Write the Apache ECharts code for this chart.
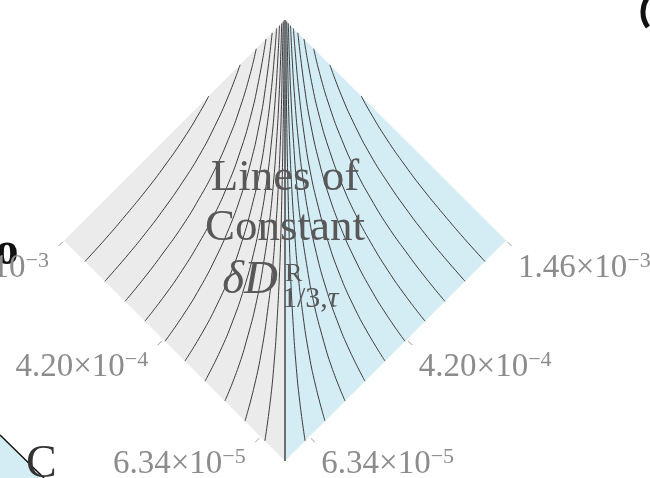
<!DOCTYPE html>
<html>
<head>
<meta charset="utf-8">
<script src="https://cdn.jsdelivr.net/npm/echarts@6/dist/echarts.min.js"></script>
<style>
  html, body { margin: 0; padding: 0; background: #fff; }
  #chart { width: 650px; height: 478px; }
</style>
</head>
<body>
<div id="chart"></div>
<script>
// diamond halves, in (x = b - a, y = a + b) units
const leftHalf = [[0, 0], [-1, 1], [0, 2]];
const rightHalf = [[0, 0], [1, 1], [0, 2]];
const centerLine = [[0, 0], [0, 2]];

// contour lines on the left half; the right half mirrors them
const contours = [
  [[-0.091,0.091],[-0.067,0.267],[-0.049,0.449],[-0.036,0.636],[-0.026,0.826],[-0.019,1.019],[-0.014,1.214],[-0.010,1.410],[-0.007,1.607],[-0.005,1.805],[-0.004,1.997]],
  [[-0.181,0.181],[-0.139,0.339],[-0.105,0.505],[-0.079,0.679],[-0.058,0.858],[-0.043,1.043],[-0.031,1.231],[-0.022,1.422],[-0.016,1.616],[-0.012,1.812],[-0.008,1.992]],
  [[-0.272,0.272],[-0.215,0.415],[-0.168,0.568],[-0.128,0.728],[-0.097,0.897],[-0.072,1.072],[-0.053,1.253],[-0.039,1.439],[-0.028,1.628],[-0.020,1.820],[-0.015,1.985]],
  [[-0.362,0.362],[-0.295,0.495],[-0.236,0.636],[-0.185,0.785],[-0.142,0.942],[-0.108,1.108],[-0.081,1.281],[-0.060,1.460],[-0.044,1.644],[-0.032,1.832],[-0.025,1.975]],
  [[-0.453,0.453],[-0.377,0.577],[-0.308,0.708],[-0.247,0.847],[-0.195,0.995],[-0.151,1.151],[-0.114,1.314],[-0.086,1.486],[-0.064,1.664],[-0.047,1.847],[-0.038,1.962]],
  [[-0.543,0.543],[-0.461,0.661],[-0.385,0.785],[-0.316,0.916],[-0.254,1.054],[-0.200,1.200],[-0.155,1.355],[-0.118,1.518],[-0.089,1.689],[-0.058,1.942]],
  [[-0.634,0.634],[-0.547,0.747],[-0.465,0.865],[-0.389,0.989],[-0.319,1.119],[-0.257,1.257],[-0.203,1.403],[-0.157,1.557],[-0.120,1.720],[-0.086,1.914]],
  [[-0.724,0.724],[-0.634,0.834],[-0.548,0.948],[-0.465,1.065],[-0.389,1.189],[-0.319,1.319],[-0.257,1.457],[-0.203,1.603],[-0.157,1.757],[-0.130,1.870]],
  [[-0.815,0.815],[-0.722,0.922],[-0.632,1.032],[-0.546,1.146],[-0.464,1.264],[-0.387,1.387],[-0.318,1.518],[-0.256,1.656],[-0.203,1.797]],
  [[-0.905,0.905],[-0.810,1.010],[-0.718,1.118],[-0.628,1.228],[-0.542,1.342],[-0.460,1.460],[-0.384,1.584],[-0.345,1.655]]
];

// ticks along the two lower edges
const tickSteps = [0.11, 0.551, 1.0];
const tickMain = ['6.34×10', '4.20×10', '1.46×10'];
const tickExp = ['−5', '−4', '−3'];

const halves = [leftHalf, rightHalf];
const halfColors = ['#ebebeb', '#d4ecf4'];

const lineSeries = [];
contours.forEach(c => {
  [c, c.map(p => [-p[0], p[1]])].forEach(d => {
    lineSeries.push({
      type: 'line',
      data: d,
      smooth: true,
      showSymbol: false,
      silent: true,
      clip: false,
      z: 3,
      lineStyle: { color: '#3c3c3c', width: 1 }
    });
  });
});

const tickData = [];
[-1, 1].forEach(side => {
  tickSteps.forEach((s, i) => tickData.push([side * s, s, i, side]));
});

const serif = '"Liberation Serif"';

const chart = echarts.init(document.getElementById('chart'));
chart.setOption({
  animation: false,
  grid: { left: 64, right: 144, top: 20, bottom: 17 },
  xAxis: { type: 'value', min: -1, max: 1, show: false },
  yAxis: { type: 'value', min: 0, max: 2, show: false },
  series: [
    {
      type: 'custom',
      silent: true,
      z: 1,
      data: [[0, 0], [0, 0]],
      renderItem: (params, api) => ({
        type: 'polygon',
        shape: { points: halves[params.dataIndex].map(p => api.coord(p)) },
        style: { fill: halfColors[params.dataIndex] }
      })
    },
    ...lineSeries,
    {
      type: 'line',
      data: centerLine,
      showSymbol: false,
      silent: true,
      clip: false,
      z: 4,
      lineStyle: { color: '#6f6f6f', width: 2 }
    },
    {
      type: 'custom',
      silent: true,
      z: 5,
      data: tickData,
      renderItem: (params, api) => {
        const p = api.coord([api.value(0), api.value(1)]);
        const i = api.value(2);
        const side = api.value(3);
        return {
          type: 'group',
          children: [
            {
              type: 'line',
              shape: { x1: p[0] + side * 1.5, y1: p[1] + 1.5, x2: p[0] + side * 5.5, y2: p[1] + 5.5 },
              style: { stroke: '#9a9a9a', lineWidth: 1 }
            },
            {
              type: 'text',
              x: p[0] + (side < 0 ? -15 : 12),
              y: p[1] + 27,
              style: {
                text: '{m|' + tickMain[i] + '}{s|' + tickExp[i] + '}',
                align: side < 0 ? 'right' : 'left',
                verticalAlign: 'middle',
                rich: {
                  m: { fontFamily: 'Liberation Serif', fontSize: 33, lineHeight: 35, verticalAlign: 'bottom', fill: '#8c8c8c' },
                  s: { fontFamily: 'Liberation Serif', fontSize: 22, lineHeight: 22, verticalAlign: 'top', fill: '#8c8c8c' }
                }
              }
            }
          ]
        };
      }
    }
  ],
  graphic: [
    // bits of the neighbouring panels that show at the edges
    { type: 'polygon', z: 0, shape: { points: [[0, 436], [42, 478], [0, 478]] }, style: { fill: '#d4ecf4' } },
    { type: 'line', z: 1, shape: { x1: 0, y1: 435, x2: 44, y2: 478 }, style: { stroke: '#111', lineWidth: 1.5 } },
    { type: 'text', z: 2, x: 26, y: 488, style: { text: 'C', font: '46px ' + serif, fill: '#333', align: 'left', verticalAlign: 'bottom' } },
    { type: 'text', z: 2, x: 7, y: 252, style: { text: 'o', font: 'bold 46px ' + serif, fill: '#111', align: 'center', verticalAlign: 'middle' } },
    { type: 'arc', z: 2, shape: { cx: 668, cy: 12, r: 25, startAngle: 2.5, endAngle: 3.9 }, style: { stroke: '#111', lineWidth: 5, fill: null } },
    // title inside the diamond
    { type: 'text', z: 10, x: 285, y: 178, style: { text: 'Lines of', font: '45px ' + serif, fill: '#585858', align: 'center', verticalAlign: 'middle' } },
    { type: 'text', z: 10, x: 285, y: 228, style: { text: 'Constant', font: '45px ' + serif, fill: '#585858', align: 'center', verticalAlign: 'middle' } },
    { type: 'text', z: 10, x: 278, y: 281, style: { text: 'δD', font: 'italic 47px ' + serif, fill: '#585858', align: 'right', verticalAlign: 'middle' } },
    { type: 'text', z: 10, x: 285, y: 274, style: { text: 'R', font: '26px ' + serif, fill: '#585858', align: 'left', verticalAlign: 'middle' } },
    {
      type: 'text', z: 10, x: 282, y: 299,
      style: {
        text: '{n|1/3,}{t|τ}',
        align: 'left',
        verticalAlign: 'middle',
        rich: {
          n: { font: '30px ' + serif, fill: '#585858' },
          t: { font: 'italic 30px ' + serif, fill: '#585858' }
        }
      }
    }
  ]
});
</script>
</body>
</html>
